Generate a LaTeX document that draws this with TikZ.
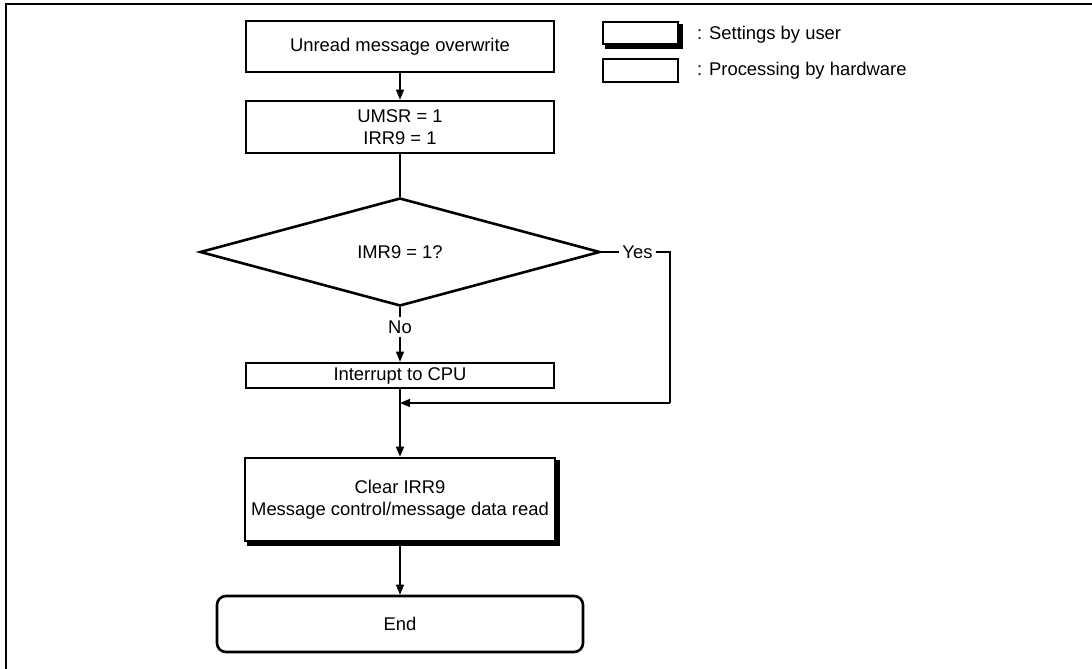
\documentclass[tikz,border=0pt]{standalone}
\usepackage{fontspec}
\setmainfont{Liberation Sans}
\usetikzlibrary{shapes.geometric,arrows.meta}
\tikzset{
  boxthick/.style={draw, line width=2.6pt, fill=white, inner sep=0pt, align=center},
  conn/.style={line width=1.3pt},
  arr/.style={conn, -{Triangle[length=10pt,width=8pt]}},
  lbl/.style={inner sep=3pt},
  shadowed/.style={preaction={fill=black, draw=black, line width=2.6pt, transform canvas={shift={(3.5pt,-3.5pt)}}}}
}
\begin{document}
\begin{tikzpicture}[x=1pt,y=-1pt,font=\fontsize{18.4}{22.5}\selectfont]
\useasboundingbox (0,0) rectangle (1092,669);
% frame
\draw[line width=2pt] (6,669) -- (6,4) -- (1092,4);
% legend
\node[boxthick, shadowed, minimum width=75pt, minimum height=22pt] (lg1) at (640.5,33) {};
\node[anchor=west, inner sep=0pt] (lt1) at (697,35) {: Settings by user};
\node[boxthick, minimum width=75pt, minimum height=23pt] (lg2) at (640.5,70.5) {};
\node[anchor=west, inner sep=0pt] (lt2) at (697,71) {: Processing by hardware};
% flow
\node[boxthick, minimum width=308pt, minimum height=51pt] (b1) at (400,46.5) {Unread message overwrite};
\node[boxthick, minimum width=308pt, minimum height=52pt] (b2) at (400,127) {UMSR = 1\\IRR9 = 1};
\node[diamond, draw, line width=2.6pt, inner sep=0pt, minimum width=400pt, minimum height=108pt, aspect=3.7] (d) at (400,252) {IMR9 = 1?};
\node[lbl] (yes) at (637.5,252) {Yes};
\node[lbl] (no) at (400,327) {No};
\node[boxthick, minimum width=308pt, minimum height=25pt] (int) at (400,375.5) {Interrupt to CPU};
\coordinate (m) at (400,403);
\coordinate (yc) at (670,403);
\node[boxthick, shadowed, minimum width=310pt, minimum height=83pt] (clr) at (400,499.5) {Clear IRR9\\Message control/message data read};
\node[boxthick, rounded corners=9pt, minimum width=366pt, minimum height=56pt] (end) at (400,624) {End};
% connectors
\draw[arr] (b1) -- (b2);
\draw[conn] (b2) -- (d);
\draw[conn] (d.south) -- (no.north);
\draw[arr] (no.south) -- (int.north);
\draw[conn] (d.east) -- (yes.west);
\draw[conn] (yes.east) -| (yc);
\draw[arr] (yc) -- (m);
\draw[arr] (int.south) -- (clr.north);
\draw[arr] (clr.south) -- (end.north);
\end{tikzpicture}
\end{document}
